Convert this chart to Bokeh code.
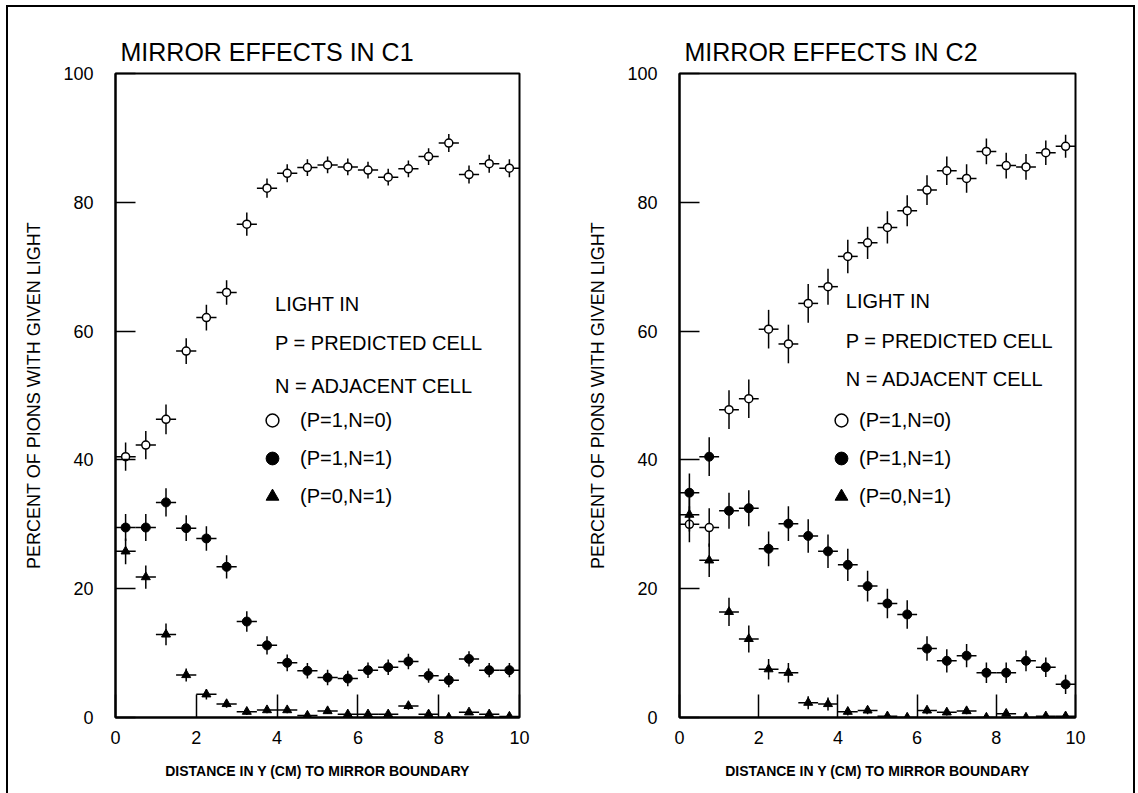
from bokeh.plotting import figure
from bokeh.models import ColumnDataSource, Range1d, Legend, LegendItem, Label
from bokeh.layouts import row
from bokeh.embed import file_html
from bokeh.resources import INLINE

# ---------------- data ----------------
X = [0.25, 0.75, 1.25, 1.75, 2.25, 2.75, 3.25, 3.75, 4.25, 4.75,
     5.25, 5.75, 6.25, 6.75, 7.25, 7.75, 8.25, 8.75, 9.25, 9.75]
HALF_BIN = 0.25

# C1
c1_open = [40.5, 42.3, 46.3, 56.9, 62.1, 66.0, 76.6, 82.2, 84.5, 85.4,
           85.8, 85.5, 85.0, 83.9, 85.2, 87.1, 89.2, 84.3, 86.0, 85.3]
c1_open_err = [2.2, 2.2, 2.3, 2.0, 2.0, 1.9, 1.8, 1.5, 1.4, 1.3,
               1.3, 1.3, 1.3, 1.3, 1.3, 1.3, 1.4, 1.4, 1.4, 1.4]
c1_full = [29.5, 29.5, 33.4, 29.4, 27.8, 23.4, 14.9, 11.2, 8.5, 7.25,
           6.2, 6.05, 7.35, 7.8, 8.7, 6.5, 5.8, 9.1, 7.35, 7.35]
c1_full_err = [2.1, 2.1, 2.2, 2.0, 1.9, 1.8, 1.6, 1.4, 1.3, 1.2,
               1.2, 1.2, 1.2, 1.2, 1.2, 1.1, 1.1, 1.2, 1.1, 1.1]
c1_tri = [25.8, 21.8, 12.9, 6.6, 3.6, 2.1, 0.9, 1.15, 1.15, 0.3,
          1.0, 0.5, 0.5, 0.5, 1.8, 0.5, 0.0, 0.8, 0.5, 0.15]
c1_tri_err = [2.0, 1.8, 1.7, 1.0, 0.8, 0.6, 0.5, 0.5, 0.5, 0.3,
              0.4, 0.4, 0.4, 0.4, 0.6, 0.4, 0.2, 0.4, 0.4, 0.2]

# C2
c2_open = [30.0, 29.5, 47.8, 49.5, 60.3, 58.0, 64.3, 66.9, 71.6, 73.7,
           76.1, 78.7, 81.9, 84.9, 83.7, 87.9, 85.7, 85.5, 87.7, 88.7]
c2_open_err = [2.8, 3.0, 3.0, 3.0, 3.0, 3.0, 3.0, 2.8, 2.6, 2.5,
               2.5, 2.4, 2.3, 2.2, 2.2, 2.0, 2.0, 2.0, 1.9, 1.8]
c2_full = [34.9, 40.5, 32.1, 32.5, 26.2, 30.1, 28.2, 25.8, 23.7, 20.4,
           17.7, 16.0, 10.7, 8.8, 9.6, 6.95, 6.95, 8.8, 7.8, 5.15]
c2_full_err = [3.0, 3.0, 2.8, 2.8, 2.7, 2.7, 2.6, 2.6, 2.5, 2.4,
               2.3, 2.2, 1.9, 1.8, 1.8, 1.6, 1.6, 1.6, 1.5, 1.5]
c2_tri = [31.5, 24.4, 16.4, 12.2, 7.5, 6.95, 2.3, 2.1, 0.9, 1.1,
          0.2, 0.0, 1.1, 0.8, 1.0, 0.0, 0.6, 0.0, 0.2, 0.2]
c2_tri_err = [2.6, 2.6, 2.2, 2.1, 1.6, 1.5, 1.0, 1.0, 0.6, 0.6,
              0.3, 0.3, 0.6, 0.5, 0.5, 0.3, 0.4, 0.3, 0.3, 0.3]

X_TICKS = [0, 2, 4, 6, 8, 10]
Y_TICKS = [0, 20, 40, 60, 80, 100]
TITLES = ["MIRROR EFFECTS IN C1", "MIRROR EFFECTS IN C2"]
X_LABEL = "DISTANCE IN Y (CM) TO MIRROR BOUNDARY"
Y_LABEL = "PERCENT OF PIONS WITH GIVEN LIGHT"
KEY_LINES = ["LIGHT IN", "P = PREDICTED CELL", "N = ADJACENT CELL"]
SERIES_NAMES = ["(P=1,N=0)", "(P=1,N=1)", "(P=0,N=1)"]

FONT = "Liberation Sans"


def make_panel(title, series, min_left, frame_w, fig_w, key_x, key_ys, legend_loc, legend_standoff):
    frame_h = 644
    top = 66
    fig_h = 786
    p = figure(width=fig_w, height=fig_h,
               x_range=Range1d(0, 10), y_range=Range1d(0, 100),
               output_backend="svg", toolbar_location=None,
               min_border_left=min_left, min_border_right=fig_w - min_left - frame_w,
               min_border_top=top, min_border_bottom=fig_h - top - frame_h)
    p.title.text = title
    p.title.text_font = FONT
    p.title.text_font_size = "25px"
    p.title.text_font_style = "normal"
    p.title.text_color = "black"
    p.title.align = "left"
    p.title.offset = 5
    p.title.standoff = 16
    p.grid.visible = False
    p.outline_line_color = "black"
    p.outline_line_width = 2
    p.outline_line_alpha = 1
    p.background_fill_color = "white"
    p.border_fill_color = "white"

    p.xaxis.ticker = X_TICKS
    p.yaxis.ticker = Y_TICKS
    for ax in (p.xaxis, p.yaxis):
        ax.axis_line_width = 2
        ax.axis_line_color = "black"
        ax.major_tick_out = 0
        ax.major_tick_line_width = 1.5
        ax.major_tick_line_color = "black"
        ax.minor_tick_line_color = None
        ax.major_label_text_font = FONT
        ax.major_label_text_font_size = "18px"
        ax.major_label_text_color = "black"
        ax.axis_label_text_font = FONT
        ax.axis_label_text_color = "black"
    p.xaxis.major_tick_in = 23
    p.yaxis.major_tick_in = 20
    p.xaxis.major_label_standoff = 13
    p.yaxis.major_label_standoff = 22
    p.xaxis.axis_label = X_LABEL
    p.xaxis.axis_label_text_font_size = "14px"
    p.xaxis.axis_label_text_font_style = "bold"
    p.xaxis.axis_label_standoff = 16
    p.yaxis.axis_label = Y_LABEL
    p.yaxis.axis_label_text_font_size = "18px"
    p.yaxis.axis_label_text_font_style = "normal"
    p.yaxis.axis_label_standoff = 16

    renderers = []
    styles = [
        dict(marker="circle", size=8, fill_color="white", line_color="black", line_width=1.5),
        dict(marker="circle", size=9, fill_color="black", line_color="black", line_width=1),
        dict(marker="triangle", size=9, fill_color="black", line_color="black", line_width=1),
    ]
    for (vals, errs), st in zip(series, styles):
        src = ColumnDataSource(dict(
            x=X, y=vals,
            xl=[x - HALF_BIN for x in X], xr=[x + HALF_BIN for x in X],
            lo=[v - e for v, e in zip(vals, errs)], hi=[v + e for v, e in zip(vals, errs)],
        ))
        p.segment("xl", "y", "xr", "y", source=src, line_color="black", line_width=1.5)
        p.segment("x", "lo", "x", "hi", source=src, line_color="black", line_width=1.5)
        r = p.scatter("x", "y", source=src, **st)
        renderers.append(r)

    for txt, ky in zip(KEY_LINES, key_ys):
        p.add_layout(Label(x=key_x, y=ky, text=txt, text_font=FONT, text_font_size="20px",
                           text_baseline="middle", text_align="left", text_color="black"))

    legend = Legend(items=[LegendItem(label=n, renderers=[r]) for n, r in zip(SERIES_NAMES, renderers)],
                    location=legend_loc, border_line_color=None, background_fill_alpha=0,
                    label_text_font=FONT, label_text_font_size="20px", label_text_color="black",
                    glyph_width=32, glyph_height=32, label_height=32, spacing=6,
                    padding=0, margin=0, label_standoff=legend_standoff)
    p.add_layout(legend)
    return p


p1 = make_panel(TITLES[0],
                [(c1_open, c1_open_err), (c1_full, c1_full_err), (c1_tri, c1_tri_err)],
                min_left=107, frame_w=404, fig_w=558,
                key_x=3.95, key_ys=[64.2, 58.2, 51.4], legend_loc=(141, 205), legend_standoff=12)
p2 = make_panel(TITLES[1],
                [(c2_open, c2_open_err), (c2_full, c2_full_err), (c2_tri, c2_tri_err)],
                min_left=113, frame_w=396, fig_w=567,
                key_x=4.2, key_ys=[64.7, 58.5, 52.6], legend_loc=(146, 205), legend_standoff=2)

layout = row(p1, p2, styles={"border-top": "2px solid black", "border-left": "2px solid black",
                             "border-right": "2px solid black", "margin": "5px 3px 0px 6px",
                             "background-color": "white"})

open("out.html", "w").write(file_html(layout, INLINE))
